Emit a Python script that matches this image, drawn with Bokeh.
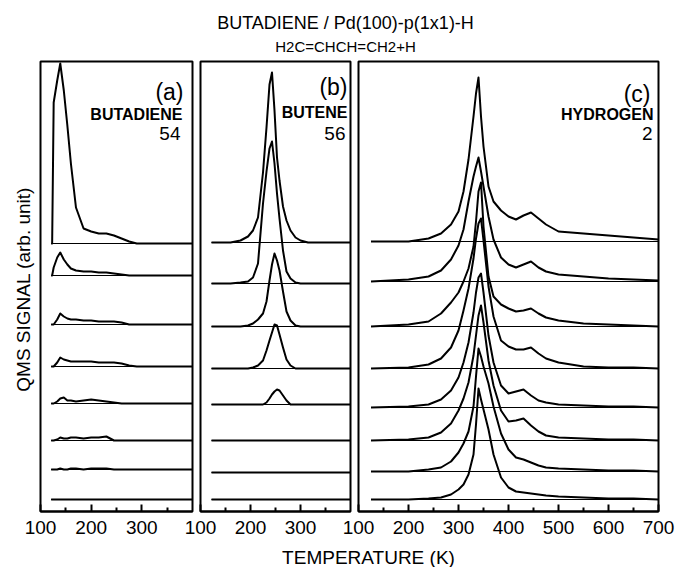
import numpy as np
from bokeh.plotting import figure
from bokeh.layouts import row, column
from bokeh.models import Range1d, FixedTicker, Label
from bokeh.embed import file_html
from bokeh.resources import INLINE

FONT = "Liberation Sans"

# ---------------- data ----------------
# (a) BUTADIENE 54
TA = [121, 123, 126, 133, 139, 146, 153, 160, 170, 185, 200, 215, 230, 245, 260, 275, 290, 320, 360, 400]
A1 = [0, 0, 141, 163, 180, 153, 118, 80, 36, 15, 12, 10, 10, 8, 5, 2, 0, 0, 0, 0]
A2 = [0, 0, 8, 18, 23, 16, 11, 7, 5, 4, 4, 3, 3, 2, 1, 0, 0, 0, 0, 0]
A3 = [0, 0, 0, 5, 11, 8, 6, 5, 5, 4, 4, 3, 3, 3, 2, 0, 0, 0, 0, 0]
A4 = [0, 0, 0, 4, 9, 7, 6, 5, 5, 5, 5, 4, 4, 4, 3, 1, 0, 0, 0, 0]
A5 = [0, 0, 0, 2, 5, 6, 3, 3, 2, 3, 4, 3, 2, 1, 0, 0, 0, 0, 0, 0]
A6 = [0, 0, 0, 1, 3, 2, 2, 3, 3, 2, 3, 3, 4, 0, 0, 0, 0, 0, 0, 0]
A7 = [0, 0, 0, 0, 1, 0, 0, 1, 1, 0, 1, 1, 1, 0, 0, 0, 0, 0, 0, 0]
A8 = [0, 0, 0, 0, 0, 0, 0, 0, 0, 0, 0, 0, 0, 0, 0, 0, 0, 0, 0, 0]
OFF_A = [268, 236, 187, 145, 108, 71, 42, 12]

# (b) BUTENE 56
TB = [122, 160, 180, 195, 205, 215, 225, 232, 238, 243, 248, 253, 258, 265, 272, 280, 290, 300, 315, 340, 370, 400]
B1 = [0, 0, 2, 6, 12, 25, 70, 115, 158, 170, 132, 85, 62, 36, 22, 12, 5, 2, 0, 0, 0, 0]
B2 = [0, 0, 1, 2, 6, 20, 80, 112, 135, 142, 120, 90, 65, 33, 12, 5, 1, 0, 0, 0, 0, 0]
B3 = [0, 0, 0, 1, 3, 7, 13, 25, 46, 62, 73, 66, 56, 35, 15, 6, 1, 0, 0, 0, 0, 0]
B4 = [0, 0, 0, 0, 1, 3, 8, 18, 28, 36, 44, 43, 34, 21, 9, 3, 0, 0, 0, 0, 0, 0]
B5 = [0, 0, 0, 0, 0, 0, 0, 2, 6, 10, 13, 15, 14, 9, 4, 0, 0, 0, 0, 0, 0, 0]
B6 = [0] * 22
B7 = [0] * 22
B8 = [0] * 22
OFF_B = [269, 228, 185, 143, 107, 71, 39, 12]

# (c) HYDROGEN 2
TC = [125, 200, 240, 265, 285, 300, 310, 320, 330, 335, 340, 345, 350, 360, 370, 385, 400, 415, 430, 445, 460, 475, 500, 550, 600, 650, 700]
C1 = [0, 0, 3, 8, 17, 30, 50, 82, 125, 148, 164, 125, 95, 55, 40, 31, 25, 22, 26, 29, 23, 17, 10, 8, 6, 4, 2]
C2 = [0, 2, 5, 11, 22, 36, 52, 80, 105, 115, 124, 110, 95, 65, 42, 24, 17, 14, 17, 20, 14, 10, 7, 5, 3, 2, 1]
C3 = [0, 2, 5, 13, 24, 34, 45, 58, 80, 105, 135, 144, 100, 50, 30, 22, 18, 15, 16, 18, 13, 9, 6, 3, 2, 1, 0]
C4 = [0, 1, 4, 10, 21, 38, 58, 80, 110, 130, 145, 150, 128, 82, 52, 28, 22, 19, 19, 21, 15, 10, 6, 2, 1, 1, 0]
C5 = [0, 1, 3, 8, 17, 30, 45, 65, 95, 115, 130, 134, 115, 72, 45, 22, 14, 16, 18, 12, 7, 5, 3, 2, 1, 1, 0]
C6 = [0, 1, 3, 8, 17, 30, 42, 58, 85, 105, 125, 135, 118, 80, 55, 30, 19, 20, 22, 15, 9, 5, 3, 2, 1, 1, 0]
C7 = [0, 0, 2, 4, 10, 19, 28, 40, 65, 95, 123, 115, 105, 88, 65, 38, 22, 14, 12, 9, 6, 4, 3, 2, 1, 1, 0]
C8 = [0, 0, 1, 2, 5, 10, 15, 25, 45, 75, 111, 100, 90, 70, 45, 22, 12, 8, 7, 6, 5, 4, 3, 2, 1, 1, 0]
OFF_C = [270, 230, 185, 143, 104, 71, 40, 12]

TICKS_AB = [100, 200, 300]
MINOR_AB = [150, 250, 350]
TICKS_C = [100, 200, 300, 400, 500, 600, 700]
MINOR_C = [150, 250, 350, 450, 550, 650]

LABELS_A = ["(a)", "BUTADIENE", "54"]
LABELS_B = ["(b)", "BUTENE", "56"]
LABELS_C = ["(c)", "HYDROGEN", "2"]


def blank(width, height):
    f = figure(width=width, height=height, x_range=Range1d(0, width), y_range=Range1d(0, height),
               output_backend="svg", toolbar_location=None, min_border=0,
               x_axis_location=None, y_axis_location=None)
    f.outline_line_color = None
    f.xgrid.visible = False
    f.ygrid.visible = False
    return f


def panel(T, traces, offsets, xmax, ticks, minor, labels, frame_w, left, right, pads, ys):
    p = figure(width=left + frame_w + right, height=484,
               x_range=Range1d(100, xmax), y_range=Range1d(0, 450),
               output_backend="svg", toolbar_location=None,
               y_axis_location=None,
               min_border_left=left, min_border_right=right,
               min_border_top=4, min_border_bottom=30)
    p.xgrid.visible = False
    p.ygrid.visible = False
    p.outline_line_color = "black"
    p.outline_line_width = 2
    p.border_fill_alpha = 0
    ax = p.xaxis[0]
    ax.ticker = FixedTicker(ticks=ticks, minor_ticks=minor)
    ax.major_tick_in = 7
    ax.major_tick_out = 0
    ax.minor_tick_in = 4
    ax.minor_tick_out = 0
    ax.major_tick_line_width = 2
    ax.minor_tick_line_width = 2
    ax.axis_line_width = 2
    ax.major_label_text_font = FONT
    ax.major_label_text_font_size = "19px"
    ax.major_label_text_color = "black"
    ax.major_label_standoff = 9

    n = len(offsets)
    p.segment(x0=[T[0]] * n, x1=[xmax] * n, y0=offsets, y1=offsets,
              line_color="black", line_width=1)
    for h, off in zip(traces, offsets):
        p.line(T, np.array(h, dtype=float) + off, line_color="black",
               line_width=2, line_join="round")

    sizes = ["23px", "16px", "19px"]
    styles = ["normal", "bold", "normal"]
    for txt, pad, y, sz, st in zip(labels, pads, ys, sizes, styles):
        p.add_layout(Label(x=frame_w - pad, y=y, x_units="screen", y_units="screen",
                           text=txt, text_align="right", text_baseline="alphabetic",
                           text_font=FONT, text_font_size=sz, text_font_style=st,
                           text_color="black"))
    return p


left = blank(40, 484)
left.add_layout(Label(x=23, y=239, text="QMS SIGNAL (arb. unit)", angle=np.pi / 2,
                      text_align="center", text_baseline="middle",
                      text_font=FONT, text_font_size="19px", text_color="black"))

fa = panel(TA, [A1, A2, A3, A4, A5, A6, A7, A8], OFF_A, 400, TICKS_AB, MINOR_AB,
           LABELS_A, 152, 20, 4, [9, 10, 12], [420, 397, 378])
fa.margin = (0, 0, 0, -20)

fb = panel(TB, [B1, B2, B3, B4, B5, B6, B7, B8], OFF_B, 400, TICKS_AB, MINOR_AB,
           LABELS_B, 150, 24, 4, [3, 3, 5], [425, 399, 378])
fb.margin = (0, 0, 0, -20)

fc = panel(TC, [C1, C2, C3, C4, C5, C6, C7, C8], OFF_C, 700, TICKS_C, MINOR_C,
           LABELS_C, 300, 24, 25, [8, 5, 6], [418, 397, 378])
fc.margin = (0, 0, 0, -20)

top = blank(683, 57)
top.add_layout(Label(x=345, y=35, text="BUTADIENE / Pd(100)-p(1x1)-H",
                     text_align="center", text_baseline="alphabetic",
                     text_font=FONT, text_font_size="18px", text_color="black"))
top.add_layout(Label(x=345, y=11, text="H2C=CHCH=CH2+H",
                     text_align="center", text_baseline="alphabetic",
                     text_font=FONT, text_font_size="15px", text_color="black"))

bottom = blank(683, 26)
bottom.add_layout(Label(x=368, y=10, text="TEMPERATURE (K)",
                        text_align="center", text_baseline="alphabetic",
                        text_font=FONT, text_font_size="19px", text_color="black"))

layout = column(top, row(left, fa, fb, fc), bottom)
open("out.html", "w").write(file_html(layout, INLINE))
